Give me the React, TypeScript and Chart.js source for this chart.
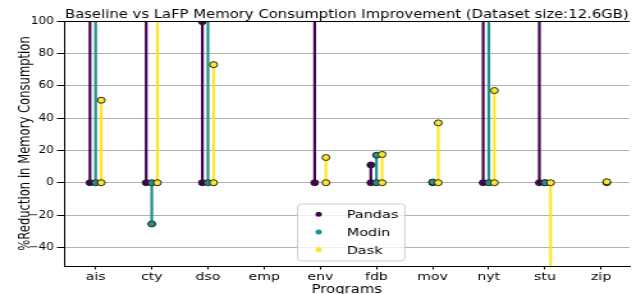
import React, { useEffect, useRef } from 'react';
import { Chart, registerables } from 'chart.js';

Chart.register(...registerables);

// ---------- data ----------
const categories = ['ais', 'cty', 'dso', 'emp', 'env', 'fdb', 'mov', 'nyt', 'stu', 'zip'];
const seriesNames = ['Pandas', 'Modin', 'Dask'];
const seriesColors = ['#440154', '#21918c', '#fde725'];
const pandasValues: (number | null)[] = [180, 170, 99.6, null, 160, 11, null, 190, 150, null];
const modinValues: (number | null)[] = [175, -25.5, 165, null, null, 17, 0.4, 185, 0, null];
const daskValues: (number | null)[] = [51, 155, 73, null, 15.6, 17.5, 37, 57, -80, 0.6];
const seriesOffsets = [-0.1, 0, 0.1];
const yTickValues = [-40, -20, 0, 20, 40, 60, 80, 100];
const titleText = 'Baseline vs LaFP Memory Consumption Improvement (Dataset size:12.6GB)';
const xAxisTitle = 'Programs';
const yAxisTitle = '%Reduction in Memory Consumption';

// ---------- layout ----------
const OUT_W = 636;
const OUT_H = 294;
const STRETCH = 1.28;
const CANVAS_W = Math.round(OUT_W / STRETCH);
const FONT = '"DejaVu Sans", "Liberation Sans", sans-serif';

function stems(values: (number | null)[], offset: number) {
  const pts: { x: number; y: number | null }[] = [];
  values.forEach((v, i) => {
    if (v === null) return;
    pts.push({ x: i + offset, y: 0 });
    pts.push({ x: i + offset, y: v });
    pts.push({ x: i + offset, y: null });
  });
  return pts;
}

const decorPlugin = {
  id: 'decor',
  afterDraw(chart: any) {
    const { ctx, chartArea } = chart;
    ctx.save();
    // top spine
    ctx.strokeStyle = '#000';
    ctx.lineWidth = 1;
    ctx.beginPath();
    ctx.moveTo(chartArea.left, Math.round(chartArea.top) + 0.5);
    ctx.lineTo(chartArea.right, Math.round(chartArea.top) + 0.5);
    ctx.stroke();

    // title
    ctx.fillStyle = '#000';
    ctx.font = `11.6px ${FONT}`;
    ctx.textAlign = 'center';
    ctx.textBaseline = 'alphabetic';
    ctx.fillText(titleText, (chartArea.left + chartArea.right) / 2, 18.3);

    // legend
    const bx = 232.6, by = 204, bw = 83.8, bh = 57;
    ctx.beginPath();
    ctx.roundRect(bx, by, bw, bh, 3);
    ctx.fillStyle = 'rgba(255,255,255,0.8)';
    ctx.fill();
    ctx.strokeStyle = '#cccccc';
    ctx.lineWidth = 1;
    ctx.stroke();
    ctx.font = `11.3px ${FONT}`;
    ctx.textAlign = 'left';
    seriesNames.forEach((name, k) => {
      const cy = 214.3 + 17.7 * k;
      ctx.beginPath();
      ctx.arc(249, cy, 2.5, 0, Math.PI * 2);
      ctx.fillStyle = seriesColors[k];
      ctx.fill();
      ctx.fillStyle = '#000';
      ctx.fillText(name, 270.9, cy + 4);
    });
    ctx.restore();
  },
};

export default function App() {
  const ref = useRef<HTMLCanvasElement | null>(null);

  useEffect(() => {
    const canvas = ref.current;
    if (!canvas) return;
    const allValues = [pandasValues, modinValues, daskValues];
    const datasets = allValues.map((vals, k) => ({
      label: seriesNames[k],
      data: stems(vals, seriesOffsets[k]),
      showLine: true,
      spanGaps: false,
      borderColor: seriesColors[k],
      backgroundColor: seriesColors[k],
      borderWidth: 2.2,
      pointRadius: 3,
      pointBorderWidth: 1,
      pointBorderColor: '#222',
      pointBackgroundColor: seriesColors[k],
      clip: 0,
      order: 3 - k,
    }));

    const chart = new Chart(canvas, {
      type: 'scatter',
      data: { datasets },
      plugins: [decorPlugin],
      options: {
        animation: false,
        responsive: false,
        devicePixelRatio: 1,
        events: [],
        layout: { padding: { top: 21, left: 0, right: 0, bottom: 0 } },
        plugins: {
          legend: { display: false },
          title: { display: false },
          tooltip: { enabled: false },
        },
        scales: {
          x: {
            type: 'linear',
            min: -0.563,
            max: 9.507,
            afterBuildTicks: (axis: any) => {
              axis.ticks = categories.map((_, i) => ({ value: i }));
            },
            afterFit: (axis: any) => {
              axis.height = 28;
            },
            ticks: {
              autoSkip: false,
              maxRotation: 0,
              padding: 1,
              color: '#000',
              font: { family: FONT, size: 11 },
              callback: (v: any) => categories[Math.round(Number(v))] ?? '',
            },
            grid: {
              drawOnChartArea: false,
              drawTicks: true,
              tickLength: 3.5,
              tickColor: '#000',
              tickWidth: 1,
            },
            border: { display: true, color: '#000', width: 1 },
            title: {
              display: true,
              text: xAxisTitle,
              color: '#000',
              font: { family: FONT, size: 11.6 },
              padding: { top: 0, bottom: -3 },
            },
          },
          y: {
            type: 'linear',
            min: -51.5,
            max: 100,
            afterBuildTicks: (axis: any) => {
              axis.ticks = yTickValues.map((v) => ({ value: v }));
            },
            afterFit: (axis: any) => {
              axis.width = 50;
            },
            ticks: {
              padding: 2.3,
              color: '#000',
              font: { family: FONT, size: 9.6 },
              callback: (v: any) => (Number(v) < 0 ? '\u2212' + Math.abs(Number(v)) : String(v)),
            },
            grid: {
              drawOnChartArea: true,
              color: '#b0b0b0',
              lineWidth: 1,
              drawTicks: true,
              tickLength: 5.5,
              tickColor: '#000',
              tickWidth: 1,
            },
            border: { display: true, color: '#000', width: 1 },
            title: {
              display: true,
              text: yAxisTitle,
              color: '#000',
              font: { family: FONT, size: 11.6 },
              padding: { top: 13.3, bottom: 0 },
            },
          },
        },
      },
    } as any);

    return () => {
      chart.destroy();
    };
  }, []);

  return (
    <div style={{ position: 'absolute', left: 0, top: 0, width: OUT_W, height: OUT_H, background: '#fff' }}>
      <canvas
        ref={ref}
        width={CANVAS_W}
        height={OUT_H}
        style={{ display: 'block', width: `${OUT_W}px`, height: `${OUT_H}px` }}
      />
    </div>
  );
}
